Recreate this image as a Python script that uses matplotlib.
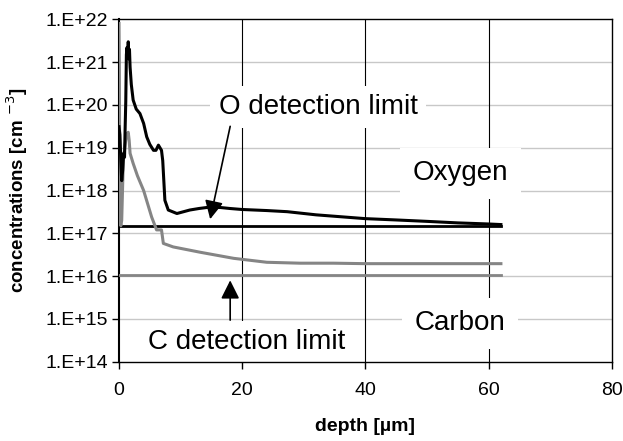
import matplotlib
matplotlib.use("Agg")
import matplotlib.pyplot as plt
import numpy as np

plt.rcParams['font.family'] = ['Liberation Sans', 'DejaVu Sans']

# depth [um] and concentration [cm^-3]
O_DEPTH = [0.0, 0.15, 0.3, 0.44, 0.6, 0.75, 0.9, 1.0, 1.1, 1.2, 1.3, 1.4, 1.5, 1.6, 1.7,
           1.8, 2.0, 2.3, 2.8, 3.4, 4.0, 4.5, 5.0, 5.6, 6.0, 6.4, 6.9, 7.1, 7.45, 8.0,
           9.4, 11.5, 13.0, 14.8, 16.5, 18.0, 20.0, 24.0, 27.3, 32.0, 35.0, 40.0,
           45.0, 50.0, 55.0, 60.0, 62.0]
O_CONC = [3.1e19, 2.0e19, 5e18, 1.7e18, 3e18, 7.4e18, 6e18, 3e19, 1.2e20, 1.5e21, 2.2e21,
          1.3e21, 3.0e21, 1.2e21, 2.0e21, 7.7e20, 3e20, 1.3e20, 8e19, 6.3e19, 3.7e19,
          1.8e19, 1.2e19, 8.7e18, 8.7e18, 1.15e19, 8.7e18, 5e18, 5.9e17, 3.5e17,
          2.9e17, 3.5e17, 3.8e17, 4.1e17, 4.0e17, 3.8e17, 3.6e17, 3.4e17, 3.2e17,
          2.7e17, 2.5e17, 2.2e17, 2.05e17, 1.9e17, 1.75e17, 1.65e17, 1.6e17]

C_DEPTH = [0.0, 0.05, 0.15, 0.3, 0.44, 0.7, 1.0, 1.25, 1.5, 1.65, 1.8, 2.3, 3.0, 4.0,
           5.3, 6.1, 6.9, 7.2, 8.8, 13.2, 18.6, 24.0, 29.4, 34.8, 40.0, 50.0, 62.0]
C_CONC = [8e21, 1e21, 2e17, 1.5e17, 2e17, 5e18, 1.2e19, 2.1e19, 2.3e19, 1.5e19, 7.4e18,
          4.3e18, 2.2e18, 1e18, 2.4e17, 1.2e17, 1.2e17, 5.8e16, 4.8e16, 3.6e16, 2.6e16,
          2.1e16, 2.0e16, 2.0e16, 1.95e16, 1.95e16, 1.95e16]

LIMIT_DEPTH = [0.0, 62.0]
O_LIMIT = 1.45e17
C_LIMIT = 1.05e16

Y_TICKS = [1e14, 1e15, 1e16, 1e17, 1e18, 1e19, 1e20, 1e21, 1e22]
Y_LABELS = ['1.E+14', '1.E+15', '1.E+16', '1.E+17', '1.E+18', '1.E+19', '1.E+20',
            '1.E+21', '1.E+22']
X_TICKS = [0, 20, 40, 60, 80]

BLACK = '#000000'
GREY = '#858585'

fig = plt.figure(figsize=(6.23, 4.41), dpi=100)
ax = fig.add_axes([0.191, 0.18, 0.791, 0.776])

ax.set_yscale('log')
ax.set_xlim(0, 80)
ax.set_ylim(1e14, 1e22)

# grid: light horizontal, black vertical
for y in Y_TICKS[1:-1]:
    ax.axhline(y, color='#c8c8c8', lw=1.0, zorder=0)
for x in X_TICKS[1:-1]:
    ax.axvline(x, color='black', lw=0.8, zorder=0)

ax.plot(LIMIT_DEPTH, [O_LIMIT, O_LIMIT], color=BLACK, lw=2.0, zorder=3)
ax.plot(LIMIT_DEPTH, [C_LIMIT, C_LIMIT], color=GREY, lw=2.0, zorder=3)
ax.plot(C_DEPTH, C_CONC, color=GREY, lw=2.2, zorder=4, solid_joinstyle='round')
ax.plot(O_DEPTH, O_CONC, color=BLACK, lw=2.2, zorder=5, solid_joinstyle='round')

box = dict(boxstyle='square,pad=0.3', fc='white', ec='none')
ax.text(32.3, 10**19.95, 'O detection limit', fontsize=20, ha='center', va='center',
        bbox=box, zorder=2)
ax.text(55.4, 10**18.4, 'Oxygen', fontsize=20, ha='center', va='center',
        bbox=dict(boxstyle='square,pad=0.45', fc='white', ec='none'), zorder=2)
ax.text(55.4, 10**14.9, 'Carbon', fontsize=20, ha='center', va='center',
        bbox=dict(boxstyle='square,pad=0.45', fc='white', ec='none'), zorder=2)
ax.text(20.7, 10**14.46, 'C detection limit', fontsize=20, ha='center', va='center',
        bbox=box, zorder=2)

arrow = dict(arrowstyle='-|>', color='black', lw=1.2, mutation_scale=28, shrinkA=0, shrinkB=0)
ax.annotate('', xy=(14.8, 10**17.33), xytext=(18.05, 10**19.5), arrowprops=arrow, zorder=6)
ax.annotate('', xy=(18.05, 10**15.9), xytext=(18.05, 10**14.97), arrowprops=arrow, zorder=6)

ax.set_yticks(Y_TICKS)
ax.set_yticklabels(Y_LABELS)
ax.minorticks_off()
ax.set_xticks(X_TICKS)
ax.tick_params(axis='both', direction='out', length=5, width=1, labelsize=14, colors='black')
ax.tick_params(axis='y', pad=3)
ax.tick_params(axis='x', pad=10)

for side in ['top', 'right', 'bottom']:
    ax.spines[side].set_linewidth(1.0)
ax.spines['left'].set_linewidth(1.5)

ax.set_xlabel('depth [µm]', fontsize=14, fontweight='bold')
ax.set_ylabel('concentrations [cm $^{-3}$]', fontsize=13.5, fontweight='bold')
ax.yaxis.set_label_coords(-0.18, 0.5)
ax.xaxis.set_label_coords(0.5, -0.165)

fig.savefig('out.png', dpi=100)
